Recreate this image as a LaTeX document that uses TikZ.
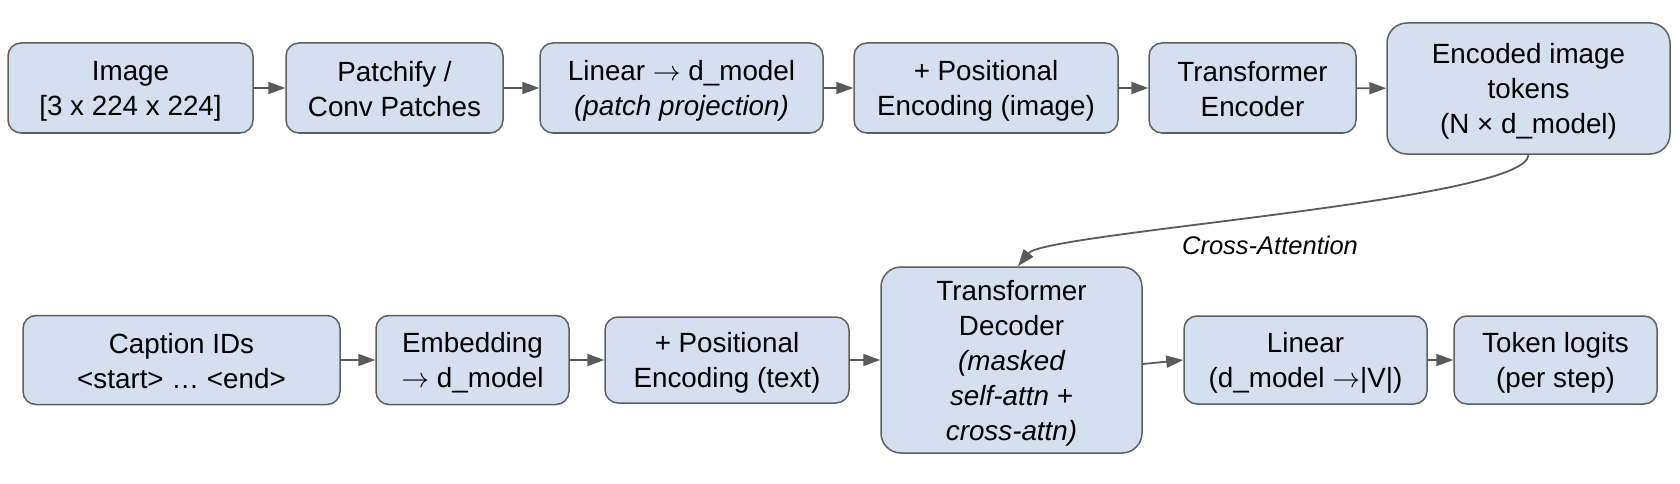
\RequirePackage{fix-cm}
\documentclass[tikz,border=0pt]{standalone}
\usepackage{fontspec}
\setmainfont{Liberation Sans}
\usetikzlibrary{arrows.meta}
\definecolor{boxfill}{RGB}{212,224,240}
\definecolor{boxline}{RGB}{95,95,95}
\definecolor{arr}{RGB}{90,90,90}
\newcommand{\rarr}{$\rightarrow$}
\newcommand{\tsx}{\rule{0pt}{26pt}}
\newcommand{\bsx}{\rule[-3.6pt]{0pt}{3.6pt}}
\begin{document}
\begin{tikzpicture}[x=1pt,y=-1pt,
 blk/.style={draw=boxline, fill=boxfill, line width=1.5pt, rounded corners=13pt, inner sep=0pt, align=center,
   font=\fontsize{27.8}{35}\selectfont},
 big/.style={rounded corners=20pt},
 conn/.style={draw=arr, line width=1.8pt, -{Triangle[length=17pt,width=12pt]}},
 lbl/.style={font=\fontsize{25.5}{30}\selectfont\itshape, inner sep=0pt}]
\useasboundingbox (0,0) rectangle (1680,484);
% row 1
\node[blk, minimum width=245pt, minimum height=90pt] (img) at (130.5,88) {\tsx Image\\{}[3 x 224 x 224]\bsx};
\node[blk, minimum width=217pt, minimum height=90pt] (patch) at (394.5,88) {\tsx Patchify /\\Conv Patches\bsx};
\node[blk, minimum width=283pt, minimum height=90pt] (lin) at (681.5,88) {\tsx Linear \rarr{} d\_model\\{\itshape (patch projection)}\bsx};
\node[blk, minimum width=264pt, minimum height=90pt] (posimg) at (986,88) {\tsx + Positional\\Encoding (image)\bsx};
\node[blk, minimum width=207pt, minimum height=90pt] (tenc) at (1252.5,88) {\tsx Transformer\\Encoder\bsx};
\node[blk, big, minimum width=283pt, minimum height=131pt] (enc) at (1528.5,88.5) {\tsx Encoded image\\tokens\\(N × d\_model)\bsx};
% row 2
\node[blk, minimum width=317pt, minimum height=89pt] (cap) at (181.5,360) {\tsx Caption IDs\\<start> … <end>\bsx};
\node[blk, minimum width=193pt, minimum height=89pt] (emb) at (472.5,360) {\tsx Embedding\\\rarr{} d\_model\bsx};
\node[blk, minimum width=244pt, minimum height=86pt] (ptext) at (727,360) {\tsx + Positional\\Encoding (text)\bsx};
\node[blk, big, minimum width=261pt, minimum height=186pt] (dec) at (1011.5,360) {\tsx Transformer\\Decoder\\{\itshape (masked}\\{\itshape self-attn +}\\{\itshape cross-attn)}\bsx};
\node[blk, minimum width=243pt, minimum height=88pt] (lin2) at (1305.5,360) {\tsx Linear\\(d\_model \rarr|V|)\bsx};
\node[blk, minimum width=203pt, minimum height=88pt] (tok) at (1555.5,360) {\tsx Token logits\\(per step)\bsx};
% label
\node[lbl] (ca) at (1270,245) {Cross-Attention};
% connectors
\draw[conn] (img) -- (patch);
\draw[conn] (patch) -- (lin);
\draw[conn] (lin) -- (posimg);
\draw[conn] (posimg) -- (tenc);
\draw[conn] (tenc) -- (enc);
\draw[conn] (cap) -- (emb);
\draw[conn] (emb) -- (ptext);
\draw[conn] (ptext) -- (dec);
\draw[conn] ([yshift=-4pt]dec.east) -- (lin2.west);
\draw[conn] (lin2) -- (tok);
\draw[conn] (enc.south) .. controls +(0,46) and +(27,-34) .. ([xshift=6.5pt]dec.north);
\end{tikzpicture}
\end{document}
